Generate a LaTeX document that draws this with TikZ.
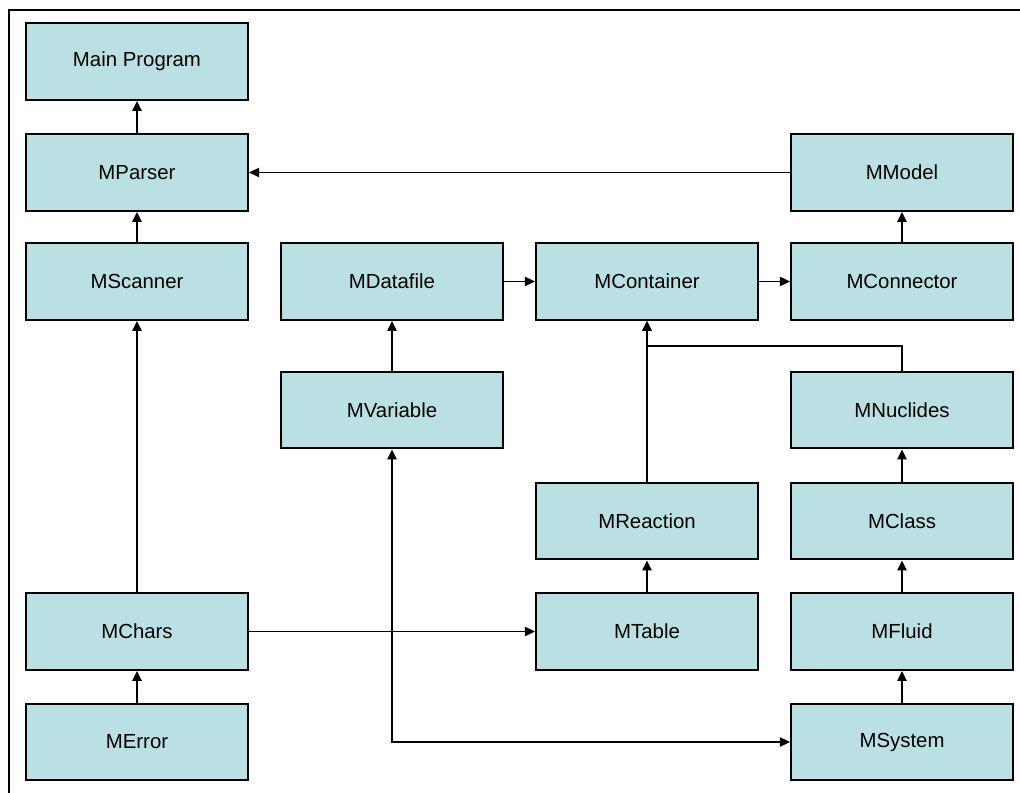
\documentclass[tikz,border=0pt]{standalone}
\usepackage{fontspec}
\setmainfont{Liberation Sans}
\usetikzlibrary{arrows.meta}
\definecolor{boxfill}{RGB}{187,224,227}

\begin{document}
\begin{tikzpicture}[
  modbox/.style={draw,line width=1.5pt,fill=boxfill,minimum width=5.55cm,minimum height=1.92cm,
    font=\fontsize{14.5}{17}\selectfont},
  arr/.style={-{Triangle[length=2.5mm,width=2.3mm]},line width=1.3pt},
  biarr/.style={{Triangle[length=2.5mm,width=2.3mm]}-{Triangle[length=2.5mm,width=2.3mm]},line width=1.3pt}]
\useasboundingbox (0,0) rectangle (25.5,19.8);
% frame (right and bottom edges lie outside the page)
\draw[line width=1.6pt] (25.6,19.55)--(0.225,19.55)--(0.225,-0.1);
% first column
\node[modbox] (main) at (3.425,18.2625) {Main Program};
\node[modbox] (par) at (3.425,15.4875) {MParser};
\node[modbox] (sca) at (3.425,12.7625) {MScanner};
\node[modbox] (cha) at (3.425,4.0125) {MChars};
\node[modbox] (err) at (3.425,1.25) {MError};
% second column
\node[modbox] (dat) at (9.8,12.7625) {MDatafile};
\node[modbox] (var) at (9.8,9.55) {MVariable};
% third column
\node[modbox] (con) at (16.175,12.7625) {MContainer};
\node[modbox] (rea) at (16.175,6.775) {MReaction};
\node[modbox] (tab) at (16.175,4.0125) {MTable};
% fourth column
\node[modbox] (mod) at (22.55,15.4875) {MModel};
\node[modbox] (cnr) at (22.55,12.7625) {MConnector};
\node[modbox] (nuc) at (22.55,9.55) {MNuclides};
\node[modbox] (cls) at (22.55,6.775) {MClass};
\node[modbox] (flu) at (22.55,4.0125) {MFluid};
\node[modbox] (sys) at (22.55,1.25) {MSystem};
\coordinate (jn) at (16.175,11.15);
% connectors
\draw[arr] (par.north)--(main.south);
\draw[arr] (sca.north)--(par.south);
\draw[arr] (mod.west)--(par.east);
\draw[arr] (cha.north)--(sca.south);
\draw[arr] (err.north)--(cha.south);
\draw[arr] (cha.east)--(tab.west);
\draw[arr] (dat.east)--(con.west);
\draw[arr] (con.east)--(cnr.west);
\draw[arr] (cnr.north)--(mod.south);
\draw[arr] (var.north)--(dat.south);
\draw[biarr] (var.south) |- (sys.west);
\draw[arr] (rea.north)--(con.south);
\draw[arr] (nuc.north) |- (jn)--(con.south);
\draw[arr] (tab.north)--(rea.south);
\draw[arr] (cls.north)--(nuc.south);
\draw[arr] (flu.north)--(cls.south);
\draw[arr] (sys.north)--(flu.south);
\end{tikzpicture}
\end{document}
